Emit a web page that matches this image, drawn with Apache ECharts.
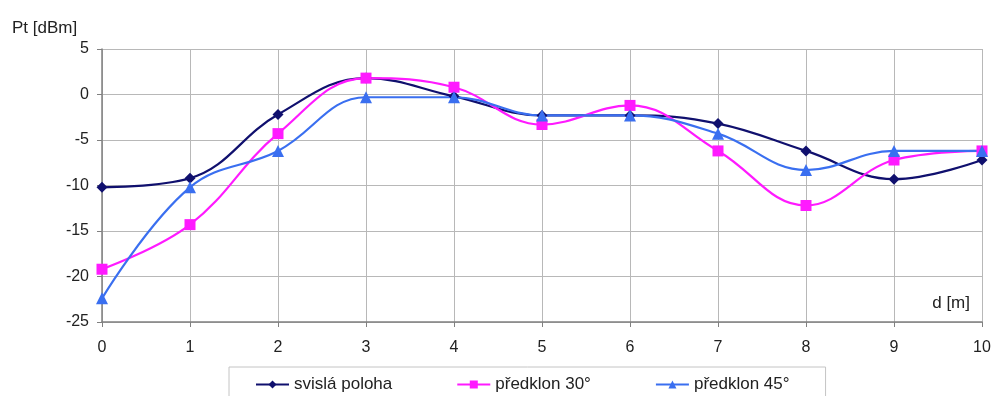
<!DOCTYPE html>
<html>
<head>
<meta charset="utf-8">
<script src="https://cdn.jsdelivr.net/npm/echarts@6/dist/echarts.min.js"></script>
<style>
    html, body { margin: 0; padding: 0; background: #fff; }
    #chart { width: 996px; height: 396px; }
</style>
</head>
<body>
<div id="chart"></div>
<script>
// distance d [m]
const distances = [0, 1, 2, 3, 4, 5, 6, 7, 8, 9, 10];
// Pt [dBm] per posture
const svislaPoloha = [-10.2, -9.2, -2.2, 1.8, -0.2, -2.3, -2.3, -3.2, -6.2, -9.3, -7.2];
const predklon30 = [-19.2, -14.3, -4.3, 1.8, 0.8, -3.3, -1.2, -6.2, -12.2, -7.2, -6.2];
const predklon45 = [-22.4, -10.2, -6.2, -0.3, -0.3, -2.3, -2.3, -4.3, -8.3, -6.2, -6.2];
const seriesNames = ['svislá poloha', 'předklon 30°', 'předklon 45°'];

const font = 'Liberation Sans, Arial, sans-serif';
const toPairs = (vals) => distances.map((d, i) => [d, vals[i]]);

const chart = echarts.init(document.getElementById('chart'));

const makeSeries = (name, vals, color, symbol, size) => ({
    name,
    type: 'line',
    data: toPairs(vals),
    smooth: 0.4,
    symbol,
    symbolSize: size,
    showSymbol: true,
    lineStyle: { color, width: 2.2 },
    itemStyle: { color },
    animation: false,
});

chart.setOption({
    backgroundColor: '#fff',
    textStyle: { fontFamily: font },
    grid: { left: 102, right: 14, top: 49, bottom: 74, containLabel: false, show: false },
    title: {
        text: 'Pt [dBm]',
        left: 7,
        top: 15,
        textStyle: { fontFamily: font, fontSize: 17, fontWeight: 'normal', color: '#222' },
    },
    legend: {
        data: seriesNames,
        left: 229,
        top: 367,
        itemWidth: 33,
        itemHeight: 10,
        itemGap: 64,
        padding: [9, 36, 20, 26],
        borderColor: '#c4c4c4',
        borderWidth: 1,
        textStyle: { fontFamily: font, fontSize: 17, color: '#222' },
    },
    xAxis: {
        type: 'value',
        min: 0,
        max: 10,
        interval: 1,
        name: 'd [m]',
        nameLocation: 'end',
        nameGap: 0,
        nameTextStyle: {
            fontFamily: font, fontSize: 17, color: '#222',
            align: 'right', verticalAlign: 'bottom', padding: [0, 12, 10, 0],
        },
        axisLine: { show: true, onZero: false, lineStyle: { color: '#808080', width: 1.5 } },
        axisTick: { show: true, length: 5, lineStyle: { color: '#808080' } },
        axisLabel: { fontFamily: font, fontSize: 16, color: '#222', margin: 18 },
        splitLine: { show: true, lineStyle: { color: '#b8b8b8', width: 1 } },
    },
    yAxis: {
        type: 'value',
        min: -25,
        max: 5,
        interval: 5,
        axisLine: { show: true, onZero: false, lineStyle: { color: '#808080', width: 1.5 } },
        axisTick: { show: true, length: 5, lineStyle: { color: '#808080' } },
        axisLabel: { fontFamily: font, fontSize: 16, color: '#222', margin: 13 },
        splitLine: { show: true, lineStyle: { color: '#b8b8b8', width: 1 } },
    },
    series: [
        makeSeries(seriesNames[0], svislaPoloha, '#10106e', 'diamond', 11),
        makeSeries(seriesNames[1], predklon30, '#ff1aff', 'rect', 11),
        makeSeries(seriesNames[2], predklon45, '#3a6ff0', 'triangle', 12),
    ],
});
</script>
</body>
</html>
